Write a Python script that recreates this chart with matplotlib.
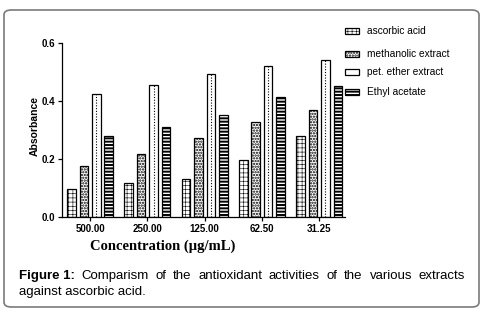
import numpy as np
import matplotlib
matplotlib.use("Agg")
from matplotlib import pyplot as plt
from matplotlib.patches import FancyBboxPatch, Rectangle

# Data
concentrations = ["500.00", "250.00", "125.00", "62.50", "31.25"]
ascorbic_acid = [0.095, 0.115, 0.129, 0.195, 0.279]
methanolic_extract = [0.175, 0.216, 0.272, 0.327, 0.369]
pet_ether_extract = [0.424, 0.457, 0.493, 0.522, 0.541]
ethyl_acetate = [0.279, 0.310, 0.351, 0.414, 0.452]

labels = ["ascorbic acid", "methanolic extract", "pet. ether extract", "Ethyl acetate"]
hatches = ["++++", "......", "", "-----"]
hatch_lw = [0.4, 1.1, 0.5, 1.4]

plt.rcParams["font.family"] = "Liberation Sans"

W, H = 483, 320
fig = plt.figure(figsize=(W / 100, H / 100), dpi=100)

# Rounded frame round the whole figure
frame = FancyBboxPatch((4 / W, 13 / H), 475 / W, 297 / H,
                       boxstyle="round,pad=0,rounding_size=0.015",
                       transform=fig.transFigure, fill=False,
                       edgecolor="#7a7a7a", linewidth=1.2)
fig.patches.append(frame)

ax = fig.add_axes([62 / W, (H - 216.7) / H, 283 / W, 173.4 / H])

x = np.arange(len(concentrations))
width = 0.15
offsets = [-0.325, -0.108, 0.108, 0.325]
series = [ascorbic_acid, methanolic_extract, pet_ether_extract, ethyl_acetate]

for vals, off, hatch, hlw in zip(series, offsets, hatches, hatch_lw):
    with plt.rc_context({"hatch.linewidth": hlw}):
        ax.bar(x + off, vals, width, color="white", edgecolor="black",
               linewidth=0.9, hatch=hatch)
# dotted centre line of the pet. ether bars
ax.vlines(x + offsets[2], 0, pet_ether_extract, colors="black",
          linestyles=(0, (1, 1.5)), linewidth=0.8)

ax.set_xlim(-0.49, 4.45)
ax.set_ylim(0, 0.6)
ax.set_yticks([0.0, 0.2, 0.4, 0.6])
ax.set_yticklabels(["0.0", "0.2", "0.4", "0.6"])
ax.set_xticks(x)
ax.set_xticklabels(concentrations)
for lab in ax.get_xticklabels() + ax.get_yticklabels():
    lab.set_fontweight("bold")
    lab.set_fontsize(7)
ax.tick_params(axis="both", length=3, width=0.9, pad=2)
ax.spines["top"].set_visible(False)
ax.spines["right"].set_visible(False)
ax.spines["left"].set_linewidth(0.9)
ax.spines["bottom"].set_linewidth(0.9)

fig.text(35 / W, (H - 126) / H, "Absorbance", fontsize=7.5, fontweight="bold",
         rotation=90, ha="center", va="center")
fig.text(163 / W, (H - 246) / H, "Concentration (\u00b5g/mL)", fontsize=10.5,
         fontweight="bold", family="Liberation Serif", ha="center", va="center")

# Legend drawn by hand to keep the uneven spacing of the original
legend_y = [31, 54, 72, 92]
for lab, hatch, hlw, ly in zip(labels, hatches, hatch_lw, legend_y):
    with plt.rc_context({"hatch.linewidth": hlw}):
        r = Rectangle((345 / W, (H - ly - 3) / H), 14 / W, 6.5 / H,
                      transform=fig.transFigure, facecolor="white",
                      edgecolor="black", linewidth=0.9, hatch=hatch)
    fig.patches.append(r)
    fig.text(367 / W, (H - ly) / H, lab, fontsize=7.3, va="center", ha="left")

# Justified caption
renderer = fig.canvas.get_renderer()
line1 = [("Figure 1:", "bold"), ("Comparism", "normal"), ("of", "normal"),
         ("the", "normal"), ("antioxidant", "normal"), ("activities", "normal"),
         ("of", "normal"), ("the", "normal"), ("various", "normal"),
         ("extracts", "normal")]
x_left, x_right = 19, 465
texts = []
for word, weight in line1:
    t = fig.text(0, (H - 276) / H, word, fontsize=9.5, fontweight=weight,
                 va="center", ha="left")
    texts.append(t)
widths = [t.get_window_extent(renderer).width for t in texts]
gap = (x_right - x_left - sum(widths)) / (len(texts) - 1)
pos = x_left
for t, w in zip(texts, widths):
    t.set_x(pos / W)
    pos += w + gap
fig.text(x_left / W, (H - 292) / H, "against ascorbic acid.", fontsize=9.5,
         va="center", ha="left")

fig.savefig("out.png", dpi=100)
